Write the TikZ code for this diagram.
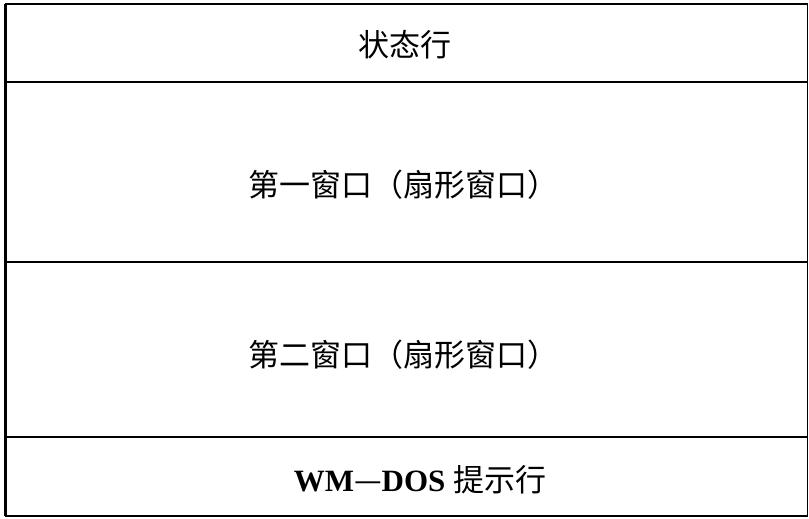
\documentclass[tikz,border=0pt]{standalone}
\usepackage{fontspec}
\setmainfont{Liberation Serif}
\newfontfamily\cjk{Noto Sans CJK SC}
\begin{document}
\begin{tikzpicture}[x=1pt,y=-1pt,
  frame/.style={line width=3pt},
  divider/.style={line width=2.2pt},
  lbl/.style={font=\fontsize{31}{35}\selectfont, inner sep=0pt}]
\useasboundingbox (0,0) rectangle (809,519);
\draw[frame] (5,4) -- (5,516);
\draw[line width=2.5pt] (5,4) -- (808,4);
\draw[line width=1pt] (807.5,4) -- (807.5,516);
\draw[line width=1.5pt] (5,516) -- (808,516);
\draw[divider] (5,82) -- (808,82);
\draw[divider] (5,262) -- (808,262);
\draw[divider] (5,437) -- (808,437);
\node[lbl] (s) at (405,45) {\cjk 状态行};
\node[lbl] (w1) at (403,185) {\cjk 第一窗口（扇形窗口）};
\node[lbl] (w2) at (403,355) {\cjk 第二窗口（扇形窗口）};
\node[lbl] (p) at (420,480) {\textbf{WM}{\cjk —}\textbf{DOS} {\cjk 提示行}};
\end{tikzpicture}
\end{document}
